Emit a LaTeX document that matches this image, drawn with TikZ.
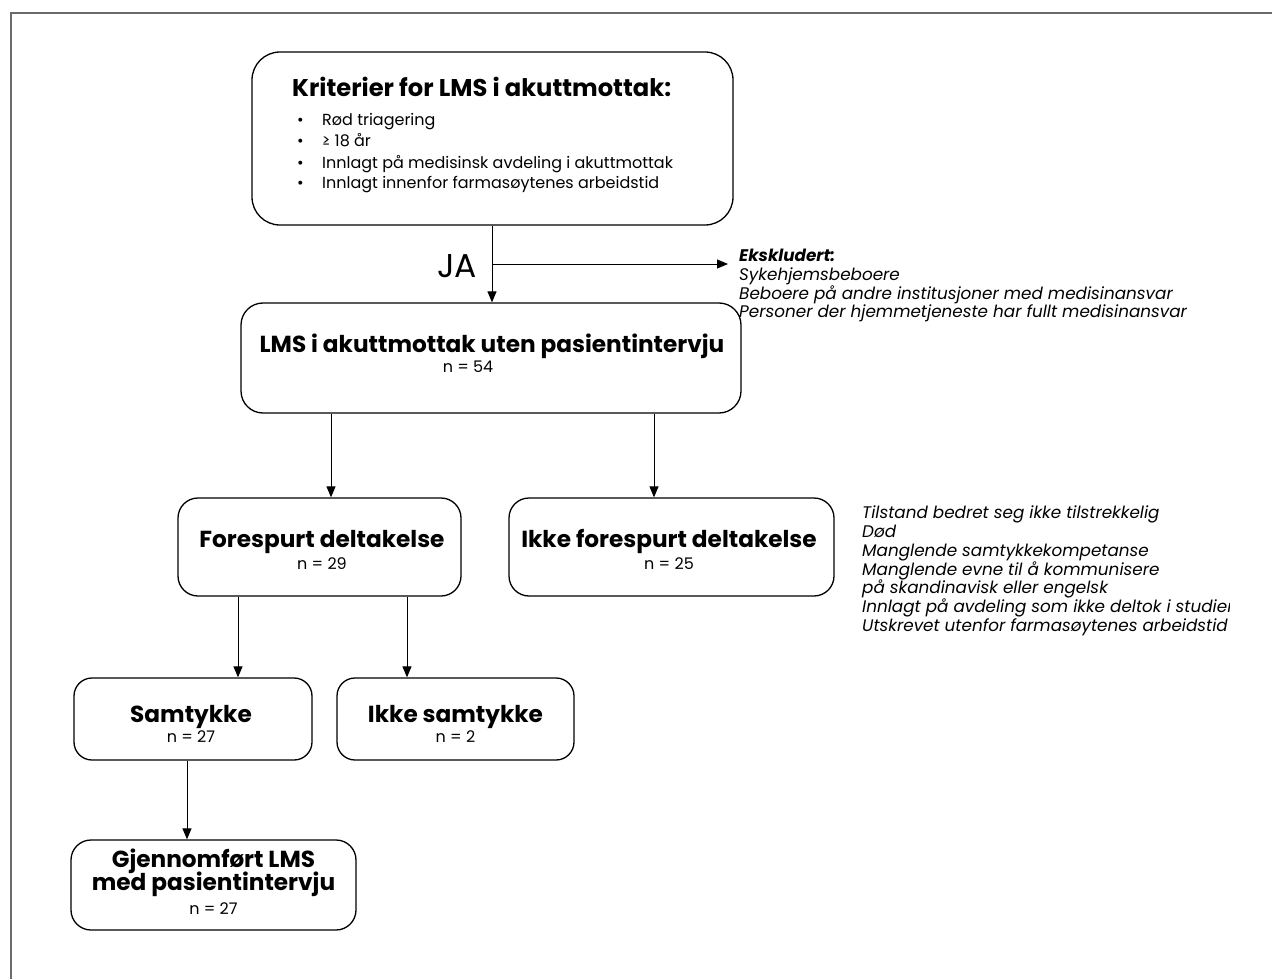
\documentclass[tikz,border=0pt]{standalone}
\usepackage{fontspec}
\setmainfont{Poppins}
\usetikzlibrary{arrows.meta}
\begin{document}
\begin{tikzpicture}[x=1pt,y=-1pt,
  box/.style={draw, line width=1.3pt, rounded corners=20pt, inner sep=0pt},
  conn/.style={line width=1pt, -{Triangle[width=9pt,length=11pt]}},
  ttl/.style={font=\fontsize{23.2}{26}\selectfont\bfseries, anchor=base, inner sep=0pt},
  cnt/.style={font=\fontsize{16}{18}\selectfont, anchor=base, inner sep=0pt},
  item/.style={font=\fontsize{16}{18}\selectfont, anchor=base west, inner sep=0pt},
  note/.style={font=\fontsize{16.8}{18.7}\selectfont\itshape, align=left, anchor=north west, inner sep=0pt},
]
\useasboundingbox (0,0) rectangle (1272,979);
\draw[line width=1.8pt, color=black!58] (11,979) -- (11,13) -- (1272,13);

% box 1
\node[box, rounded corners=28pt, minimum width=481pt, minimum height=173pt] (b1) at (492.5,138.5) {};
\node[anchor=base west, inner sep=0pt, font=\fontsize{24.2}{26}\selectfont\bfseries] (t1) at (292,97) {Kriterier for LMS i akuttmottak:};
\node[item] (i1) at (297,126) {\makebox[25pt][l]{•}Rød triagering};
\node[item] (i2) at (297,147) {\makebox[25pt][l]{•}≥ 18 år};
\node[item] (i3) at (297,168) {\makebox[25pt][l]{•}Innlagt på medisinsk avdeling i akuttmottak};
\node[item] (i4) at (297,189) {\makebox[25pt][l]{•}Innlagt innenfor farmasøytenes arbeidstid};

% box 2
\node[box, rounded corners=22pt, minimum width=500pt, minimum height=110pt] (b2) at (491,358) {};
\node[ttl] (t2) at (492,352) {LMS i akuttmottak uten pasientintervju};
\node[cnt] (n2) at (468,372) {n = 54};

\node[anchor=base east, inner sep=0pt, font=\fontsize{33}{34}\selectfont] (ja) at (477,277) {JA};
\coordinate (jn) at (492,264);
\coordinate (ex) at (728,264);

\node[note] (exl) at (739,249)
 {\bfseries Ekskludert:\\
  \mdseries Sykehjemsbeboere\\
  Beboere på andre institusjoner med medisinansvar\\
  Personer der hjemmetjeneste har fullt medisinansvar};

% box 3, 4
\node[box, minimum width=283pt, minimum height=98pt] (b3) at (319.5,547) {};
\node[ttl] (t3) at (322,547) {Forespurt deltakelse};
\node[cnt] (n3) at (322,569) {n = 29};
\node[box, minimum width=325pt, minimum height=98pt] (b4) at (671.5,547) {};
\node[ttl] (t4) at (669,547) {Ikke forespurt deltakelse};
\node[cnt] (n4) at (669,569) {n = 25};

\begin{scope}
\clip (850,490) rectangle (1229,640);
\node[note] (rsn) at (862,506)
 {Tilstand bedret seg ikke tilstrekkelig\\
  Død\\
  Manglende samtykkekompetanse\\
  Manglende evne til å kommunisere\\
  på skandinavisk eller engelsk\\
  Innlagt på avdeling som ikke deltok i studien\\
  Utskrevet utenfor farmasøytenes arbeidstid};
\end{scope}

% box 5, 6
\node[box, rounded corners=18pt, minimum width=238pt, minimum height=82pt] (b5) at (193,719) {};
\node[ttl] (t5) at (191,722) {Samtykke};
\node[cnt] (n5) at (191,742) {n = 27};
\node[box, rounded corners=18pt, minimum width=237pt, minimum height=82pt] (b6) at (455.5,719) {};
\node[ttl] (t6) at (455.5,722) {Ikke samtykke};
\node[cnt] (n6) at (455.5,742) {n = 2};

% box 7
\node[box, minimum width=285pt, minimum height=90pt] (b7) at (213.5,885) {};
\node[ttl] (t7a) at (213.5,867) {Gjennomført LMS};
\node[ttl] (t7b) at (213.5,890) {med pasientintervju};
\node[cnt] (n7) at (213.5,914) {n = 27};

% connectors
\draw[conn] (b1.south -| jn) -- (b2.north -| jn);
\draw[conn] (jn) -- (ex);
\draw[conn] ([xshift=-160pt]b2.south) -- ([xshift=-160pt]b2.south |- b3.north);
\draw[conn] ([xshift=163pt]b2.south) -- ([xshift=163pt]b2.south |- b4.north);
\draw[conn] ([xshift=-81.5pt]b3.south) -- ([xshift=-81.5pt]b3.south |- b5.north);
\draw[conn] ([xshift=87.5pt]b3.south) -- ([xshift=87.5pt]b3.south |- b6.north);
\draw[conn] ([xshift=-6pt]b5.south) -- ([xshift=-6pt]b5.south |- b7.north);
\end{tikzpicture}
\end{document}
